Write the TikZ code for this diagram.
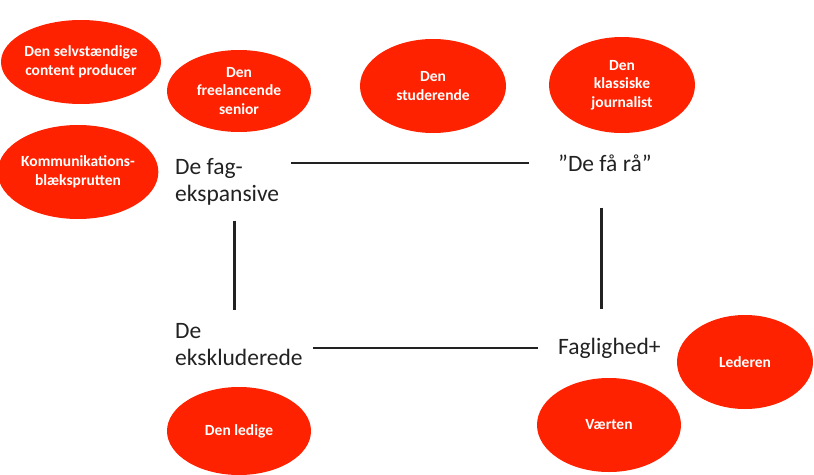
\documentclass[tikz,border=0pt]{standalone}
\usepackage{fontspec}
\setmainfont{Carlito}
\usetikzlibrary{shapes.geometric}
\definecolor{bubred}{HTML}{FF2200}
\definecolor{ink}{HTML}{222222}
\tikzset{
  bubble/.style={ellipse, fill=bubred, draw=none, inner sep=0pt, text=white, align=center,
    font=\bfseries\fontsize{15.5}{18.5}\selectfont},
  label/.style={inner sep=0pt, text=ink, align=left, anchor=west,
    font=\fontsize{23.5}{27}\selectfont},
  link/.style={ink, line width=2.8pt}
}
\begin{document}
\begin{tikzpicture}[x=1pt,y=-1pt]
\useasboundingbox (0,0) rectangle (814,474);
% bubbles
\node[bubble, minimum width=146pt, minimum height=84pt] (selv) at (81,62) {Den selvstændige\\content producer};
\node[bubble, minimum width=144pt, minimum height=82pt] (free) at (239,91) {Den\\freelancende\\senior};
\node[bubble, minimum width=146pt, minimum height=94pt] (stud) at (433,86) {Den\\studerende};
\node[bubble, minimum width=146pt, minimum height=96pt] (klas) at (622,85) {Den\\klassiske\\journalist};
\node[bubble, minimum width=144pt, minimum height=94pt] (komm) at (78,172) {Kommunikations-\\blæksprutten};
\node[bubble, minimum width=144pt, minimum height=88pt] (led) at (239,431) {Den ledige};
\node[bubble, minimum width=144pt, minimum height=94pt] (vaert) at (609,425) {Værten};
\node[bubble, minimum width=136pt, minimum height=94pt] (leder) at (745,362) {Lederen};
% labels
\node[label] (fag) at (175,182) {De fag-\\ekspansive};
\node[label] (faa) at (558,163) {”De få rå”};
\node[label] (eks) at (175,345) {De\\ekskluderede};
\node[label] (fagl) at (558,348) {Faglighed+};
% connectors
\draw[link, shorten <=12pt, shorten >=29pt] (fag.east |- faa.west) -- (faa.west);
\draw[link, shorten <=10pt, shorten >=20pt] (eks.east |- fagl.west) -- (fagl.west);
\draw[link, shorten <=15pt, shorten >=14pt] ([xshift=7pt]fag.south) -- ([xshift=7pt]fag.south |- eks.north);
\draw[link, shorten <=36pt, shorten >=29pt] ([xshift=-3pt]faa.south) -- ([xshift=-3pt]faa.south |- fagl.north);
\end{tikzpicture}
\end{document}
